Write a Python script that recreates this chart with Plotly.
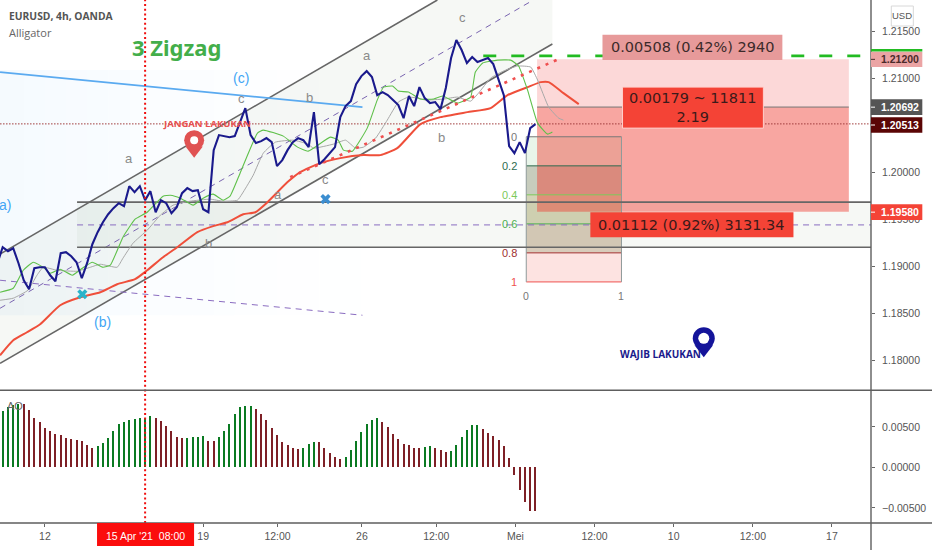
import plotly.graph_objects as go

# ---- bar series (bar index, 4h bars) ----
close_x = list(range(-1, 102))
close = [1.19032,1.19202,1.19160,1.19191,1.19032,1.18851,1.18755,1.18979,1.18989,1.18989,1.18904,
 1.18840,1.19138,1.19149,1.19106,1.19043,1.18872,1.19032,1.19234,1.19362,1.19468,
 1.19553,1.19617,1.19670,1.19638,1.19851,1.19787,1.19851,1.19702,1.19798,1.19574,
 1.19702,1.19670,1.19564,1.19628,1.19777,1.19830,1.19798,1.19809,1.19606,1.19574,
 1.20234,1.20394,1.20383,1.20372,1.20383,1.20532,1.20681,1.20394,1.20309,1.20330,
 1.20362,1.20319,1.20064,1.20128,1.20234,1.20319,1.20362,1.20340,1.20266,1.20638,
 1.20085,1.20138,1.20202,1.20266,1.20585,1.20702,1.20755,1.20936,1.21021,1.21074,
 1.21011,1.20819,1.20851,1.20819,1.20766,1.20713,1.20574,1.20809,1.20702,1.20904,
 1.20787,1.20734,1.20745,1.20670,1.20894,1.21213,1.21404,1.21298,1.21160,1.21223,
 1.21170,1.21191,1.21213,1.21149,1.20979,1.20819,1.20277,1.20202,1.20319,1.20202,
 1.20468,1.20511]

ao = [.00695,.00741,.00761,.00782,.00778,.00708,.00609,.00556,.00486,.00449,
 .00412,.00399,.00362,.00342,.00329,.00317,.00272,.00235,.00259,.00296,
 .00362,.00449,.00531,.00556,.00580,.00588,.00609,.00609,.00634,.00609,
 .00568,.00506,.00449,.00374,.00354,.00362,.00374,.00374,.00387,.00317,
 .00317,.00374,.00449,.00531,.00658,.00741,.00753,.00753,.00720,.00658,
 .00576,.00481,.00399,.00305,.00267,.00235,.00222,.00235,.00280,.00305,
 .00305,.00235,.00177,.00128,.00103,.00128,.00210,.00317,.00436,.00531,
 .00576,.00609,.00556,.00494,.00412,.00342,.00280,.00267,.00235,.00235,
 .00247,.00259,.00235,.00210,.00185,.00198,.00267,.00374,.00457,.00518,
 .00518,.00469,.00424,.00387,.00329,.00259,.00115,-.00095,-.00280,-.00436,
 -.00547,-.00547]
ao_rising = [1,1,1,1,0,0,0,0,0,0,0,0,0,0,0,0,0,0,1,1,1,1,1,1,1,1,1,1,1,0,
 0,0,0,0,0,1,1,1,1,0,0,1,1,1,1,1,1,1,0,0,0,0,0,0,0,0,0,1,1,1,
 0,0,0,0,0,1,1,1,1,1,1,1,0,0,0,0,0,0,0,0,1,1,0,0,0,1,1,1,1,1,
 1,0,0,0,0,0,0,0,0,0,0,0]

# ---- Alligator lines (bar index, price) ----
jaw_x = [-0.5,2.0,4.6,7.1,10.9,14.7,18.5,21.7,25.1,27.4,30.4,33.1,36.9,39.9,42.6,45.6,47.9,50.2,54.0,56.4,60.2,64.0,68.4,71.6,74.8,79.2,83.0,88.1,92.5,95.7,99.5,102.0,103.5,106.3,109.2]
jaw_y = [1.18053,1.18213,1.18298,1.18383,1.18585,1.18670,1.18723,1.18809,1.18862,1.18957,1.19096,1.19202,1.19362,1.19426,1.19468,1.19553,1.19574,1.19681,1.19894,1.20000,1.20096,1.20149,1.20181,1.20181,1.20255,1.20511,1.20585,1.20638,1.20681,1.20819,1.20904,1.20957,1.20957,1.20840,1.20723]
lips_x = [-0.5,2.0,3.9,5.8,7.7,9.0,10.9,13.2,15.1,17.0,19.0,20.4,22.8,25.1,27.4,30.4,31.8,33.7,36.1,38.0,39.9,41.8,43.1,45.0,48.3,49.4,53.2,55.9,57.9,62.1,63.6,64.6,66.3,69.1,71.0,72.2,73.9,75.0,76.9,79.2,81.7,83.4,86.2,88.7,89.6,91.0,93.8,96.3,97.8,99.5,101.4,103.3,104.2]
lips_y = [1.18723,1.18766,1.18957,1.19043,1.18989,1.18926,1.18968,1.18904,1.18979,1.19043,1.18989,1.19011,1.19309,1.19500,1.19574,1.19745,1.19755,1.19723,1.19649,1.19723,1.19766,1.19702,1.19745,1.19989,1.20415,1.20447,1.20383,1.20266,1.20223,1.20372,1.20340,1.20234,1.20223,1.20468,1.20766,1.20904,1.20915,1.20862,1.20851,1.20777,1.20777,1.20809,1.20734,1.20798,1.21064,1.21160,1.21191,1.21191,1.21128,1.20872,1.20521,1.20404,1.20426]
teeth_x = [-0.5,2.0,4.8,6.5,7.7,10.3,14.1,16.6,18.5,21.7,22.8,24.7,27.4,29.9,32.3,35.5,39.3,41.8,44.5,46.4,47.5,49.4,51.7,55.1,57.9,58.9,62.7,65.0,66.9,68.4,70.7,72.9,75.0,76.9,78.6,80.2,83.6,86.2,88.7,90.2,92.5,94.9,97.6,100.1,101.4,103.5,105.4,106.3]
teeth_y = [1.18638,1.18660,1.18745,1.18904,1.18989,1.18957,1.18947,1.18989,1.19021,1.18989,1.19085,1.19245,1.19383,1.19543,1.19649,1.19691,1.19713,1.19691,1.19702,1.19862,1.19968,1.20202,1.20319,1.20340,1.20298,1.20255,1.20298,1.20340,1.20255,1.20266,1.20362,1.20553,1.20745,1.20798,1.20787,1.20766,1.20777,1.20798,1.20755,1.20840,1.21000,1.21074,1.21128,1.21117,1.20979,1.20691,1.20574,1.20553]

# ---- axes ----
x_tick_pos = [8, 27, 38, 52.1, 68.1, 82.2, 97.2, 112.2, 127.2, 142.2, 157.2]
x_tick_text = ["12", "", "19", "12:00", "26", "12:00", "Mei", "12:00", "10", "12:00", "17"]
price_ticks = [1.215, 1.21, 1.205, 1.20, 1.195, 1.19, 1.185, 1.18]
ao_ticks = [0.005, 0.0, -0.005]
ao_tick_text = ["0.00500", "0.00000", "\u22120.00500"]

# ---- drawings ----
fib_levels = [1.20376, 1.20067, 1.19759, 1.19450, 1.19142, 1.18833]
fib_names = ["0", "0.2", "0.4", "0.6", "0.8", "1"]
fib_line = ["#777777", "#2e6b4f", "#7cc95a", "#4caf50", "#a03030", "#ef5350"]
fib_fill = ["rgba(76,175,80,0.12)", "rgba(70,85,35,0.30)", "rgba(120,120,30,0.32)", "rgba(125,85,30,0.30)", "rgba(244,67,54,0.15)"]
wave_grey = [("a",24,1.20149),("c",45.2,1.20787),("b",58.1,1.20798),("a",69.1,1.21245),("c",87.2,1.21649),
             ("b",83.2,1.20372),("c",61.2,1.19926),("a",52.1,1.19766),("b",39,1.19245)]
wave_blue = [("(c)",45.2,1.21),("(b)",19,1.18404),("a)",0.4,1.19649)]

W, H = 932, 550
PX0, PX1 = -0.507, 164.6
BLUE_NAVY = "#1a1a8c"
TXT = "Liberation Sans"

shapes, ann = [], []

def rect(x0, x1, y0, y1, fill, yref="y", layer="below", xref="x", line=None):
    shapes.append(dict(type="rect", xref=xref, yref=yref, x0=x0, x1=x1, y0=y0, y1=y1, fillcolor=fill,
                       line=dict(width=1 if line else 0, color=line or "rgba(0,0,0,0)"), layer=layer))

def seg(x0, y0, x1, y1, color, width=1, dash="solid", yref="y", layer="below", xref="x"):
    shapes.append(dict(type="line", xref=xref, yref=yref, x0=x0, y0=y0, x1=x1, y1=y1,
                       line=dict(color=color, width=width, dash=dash), layer=layer))

def text(t, x, y, size=11, color="#555", font=TXT, xref="x", yref="y", anchor="center", bold=False):
    ann.append(dict(text=f"<b>{t}</b>" if bold else t, x=x, y=y, xref=xref, yref=yref, showarrow=False,
                    xanchor=anchor, yanchor="middle", font=dict(size=size, color=color, family=font)))

# pale blue gradient block
blue_steps = [(-0.5,4,.05),(4,8,.046),(8,12,.042),(12,16,.038),(16,20,.034),(20,24,.03),(24,28,.027),(28,32,.024),
              (32,36,.021),(36,40,.018),(40,44,.015),(44,48,.012),(48,52,.01),(52,56,.008),(56,60,.006),(60,68,.004)]
for a, b, al in blue_steps:
    rect(a, b, 1.18479, 1.21085, f"rgba(66,165,245,{al})")

# rising channel
shapes.append(dict(type="path", xref="x", yref="y", layer="below", line=dict(width=0),
                   fillcolor="rgba(175,190,160,0.11)",
                   path="M -0.5 1.19128 L 82.4 1.2183 L 104.2 1.2183 L 104.2 1.21362 L -0.5 1.17968 Z"))
# horizontal channel
rect(14.1, PX1, 1.19202, 1.19681, "rgba(175,190,160,0.11)")

# fib block
for k in range(5):
    rect(99.25, 117.3, fib_levels[k+1], fib_levels[k], fib_fill[k])
# position block
rect(101.3, 160.4, 1.20692, 1.2120, "rgba(240,70,70,0.21)")
rect(101.3, 160.4, 1.1958, 1.20692, "rgba(240,60,50,0.46)")
seg(101.3, 1.20692, 160.4, 1.20692, "#777777", 1)

for k in range(6):
    seg(99.25, fib_levels[k], 117.3, fib_levels[k], fib_line[k], 1)
    text(fib_names[k], 97 if fib_names[k] in ("0","1") else 96, fib_levels[k], 11, fib_line[k])
seg(99.25, fib_levels[0], 99.25, fib_levels[5], "#8f9a9a", 1)
seg(117.3, fib_levels[0], 117.3, fib_levels[5], "#8f9a9a", 1)
text("0", 99.25, 1.18686, 10.5, "#777")
text("1", 117.3, 1.18686, 10.5, "#777")

# channel lines
seg(-0.5, 1.19128, 82.4, 1.2183, "#666666", 1.6)
seg(-0.5, 1.17968, 104.2, 1.21362, "#666666", 1.6)
seg(-0.5, 1.18553, 100.6, 1.2183, "#7a65b0", 1, "6px,5px")
seg(14.1, 1.19681, PX1, 1.19681, "#666666", 1.6)
seg(14.1, 1.19202, PX1, 1.19202, "#666666", 1.6)
seg(14.1, 1.19439, PX1, 1.19439, "#8a6cc0", 1, "6px,5px")
seg(-0.5, 1.18851, 68.2, 1.18479, "#8a6cc0", 1, "6px,5px")
seg(-0.5, 1.21064, 68.2, 1.20691, "#5aaaf0", 1.8)
seg(91.1, 1.21236, PX1, 1.21236, "#22bb22", 2.8, "13px,15px")

# last price dotted, vertical red marker
seg(-0.5, 1.20513, PX1, 1.20513, "#a03a3a", 1, "1.5px,1.5px")
seg(27, 0, 27, 1, "#f01010", 2, "2px,2.7px", yref="paper", layer="above")

# frames
for yy in (132.7/523,):
    seg(0, yy, W/870.7, yy, "#5e5e5e", 1.4, yref="paper", xref="paper", layer="above")
seg(0, 0, W/870.7, 0, "#5e5e5e", 1.4, yref="paper", xref="paper", layer="above")
seg(1, 1, 1, -27/523, "#5e5e5e", 1.4, yref="paper", xref="paper", layer="above")

# labelled boxes
rect(113.7, 147.8, 1.21191, 1.21461, "#e79a9a", layer="above")
text("0.00508 (0.42%) 2940", 130.7, 1.21326, 14.5, "#3c2a2a", "DejaVu Sans")
rect(117.5, 144.2, 1.20468, 1.20904, "#f44336", layer="above", line="#ffd0cc")
text("0.00179 ~ 11811<br>2.19", 130.85, 1.20686, 14.5, "#3c1a1a", "DejaVu Sans")
rect(111.4, 149.9, 1.19309, 1.19574, "#f44336", layer="above")
text("0.01112 (0.92%) 3131.34", 130.65, 1.19441, 14.5, "#3c1a1a", "DejaVu Sans")

# price tags on the axis
def ptag(label, y0_px, y1_px, fill, color):
    rect(1.0, 922/870.7, 1-y1_px/523, 1-y0_px/523, fill, yref="paper", xref="paper", layer="above")
    seg(1.0, 1-(y0_px+y1_px)/2/523, 1+4/870.7, 1-(y0_px+y1_px)/2/523, color, 1, yref="paper", xref="paper", layer="above")
    text(label, 879/870.7, 1-(y0_px+y1_px)/2/523, 10.5, color, TXT, xref="paper", yref="paper", anchor="left", bold=True)

ptag("1.21200", 51.7, 67, "#eba4a4", "#4a2a2a")
rect(1.0, 922/870.7, 1-51.5/523, 1-49/523, "#22bb22", yref="paper", xref="paper", layer="above")
ptag("1.20692", 99.3, 115, "#555555", "#ffffff")
ptag("1.20513", 117.3, 132.7, "#5a0505", "#ffffff")
ptag("1.19580", 204.3, 220, "#f44336", "#ffffff")

# date tag
rect(97/870.7, 194/870.7, -23/523, 0, "#fb0d0d", yref="paper", xref="paper", layer="above")
text("15 Apr '21  08:00", 145.5/870.7, -13/523, 10.5, "#ffffff", TXT, xref="paper", yref="paper")

# USD badge
rect(891/870.7, 913/870.7, 1-26/523, 1-6/523, "#ffffff", yref="paper", xref="paper", layer="above", line="#d8d8d8")
text("USD", 902/870.7, 1-15.5/523, 9.5, "#555", TXT, xref="paper", yref="paper")

# plain text
text("EURUSD, 4h, OANDA", 7/870.7, 1-16/523, 10.3, "#555", "Open Sans", xref="paper", yref="paper", anchor="left", bold=True)
text("Alligator", 7/870.7, 1-32/523, 11, "#666", "Open Sans", xref="paper", yref="paper", anchor="left")
text("AO", 15/870.7, 1-406/523, 11, "#666", TXT, xref="paper", yref="paper")
text("3 Zigzag", 32.9, 1.2133, 22, "#43ae4a", "Noto Sans", bold=True)
text("JANGAN LAKUKAN", 38.8, 1.20521, 9.5, "#e85050", "Open Sans", bold=True)
text("WAJIB LAKUKAN", 124.7, 1.18064, 10, BLUE_NAVY, "Open Sans", bold=True)
for t, x, y in wave_grey:
    text(t, x, y, 13, "#8a8a8a")
for t, x, y in wave_blue:
    text(t, x, y, 14, "#42a5f5")

fig = go.Figure()
fig.add_trace(go.Scatter(x=jaw_x, y=jaw_y, mode="lines", line=dict(color="#ef4f3a", width=2, shape="spline", smoothing=0.5)))
fig.add_trace(go.Scatter(x=teeth_x, y=teeth_y, mode="lines", line=dict(color="#a8a8a8", width=1, shape="spline", smoothing=0.4)))
fig.add_trace(go.Scatter(x=lips_x, y=lips_y, mode="lines", line=dict(color="#5fc04a", width=1.1, shape="spline", smoothing=0.4)))
fig.add_trace(go.Scatter(x=[54.5, 105.4], y=[1.19947, 1.21202], mode="lines", line=dict(color="#ef4f4f", width=2.6, dash="3px,6px")))
fig.add_trace(go.Scatter(x=close_x, y=close, mode="lines", line=dict(color=BLUE_NAVY, width=2.1)))
# cross marks
fig.add_trace(go.Scatter(x=[15.1], y=[1.18702], mode="markers", marker=dict(symbol="x", size=9, color="#2bb3c9")))
fig.add_trace(go.Scatter(x=[61.2], y=[1.19713], mode="markers", marker=dict(symbol="x", size=9, color="#3b8ed0")))
# pins
for px, pc, pt, col, s, h, ts in [(36.3, 1.2034, 1.20234, "#e05252", 20, 8, 15), (132.9, 1.18234, 1.18117, "#14149a", 22, 11, 16)]:
    fig.add_trace(go.Scatter(x=[px], y=[pt], mode="markers", marker=dict(symbol="triangle-down", size=ts, color=col)))
    fig.add_trace(go.Scatter(x=[px], y=[pc], mode="markers", marker=dict(symbol="circle", size=s, color=col)))
    fig.add_trace(go.Scatter(x=[px], y=[pc], mode="markers", marker=dict(symbol="circle", size=h, color="#ffffff")))
# AO
fig.add_trace(go.Bar(x=list(range(len(ao))), y=ao, width=0.2, yaxis="y2",
                     marker=dict(color=["#0b7a22" if r else "#7e2026" for r in ao_rising], line=dict(width=0))))

fig.update_layout(
    width=W, height=H, margin=dict(l=0, r=W-870.7, t=0, b=H-523), showlegend=False,
    paper_bgcolor="#ffffff", plot_bgcolor="#ffffff", shapes=shapes, annotations=ann, bargap=0,
    xaxis=dict(range=[PX0, PX1], domain=[0, 1], anchor="y2", showgrid=False, zeroline=False, fixedrange=True,
               tickmode="array", tickvals=x_tick_pos, ticktext=x_tick_text, ticks="outside", ticklen=3,
               tickcolor="#666", tickfont=dict(size=10.5, color="#555", family=TXT), showline=False),
    yaxis=dict(domain=[1-390.3/523, 1], range=[1.2183, 1.17681][::-1], side="right", anchor="x", showgrid=False,
               zeroline=False, tickmode="array", tickvals=price_ticks, tickformat=".5f", ticks="outside", ticklen=3,
               tickcolor="#666", tickfont=dict(size=10.5, color="#555", family=TXT), ticklabelstandoff=5, showline=False),
    yaxis2=dict(domain=[0, 132.7/523], range=[-0.00687, 0.00951], side="right", anchor="x", showgrid=False,
                zeroline=False, tickmode="array", tickvals=ao_ticks, ticktext=ao_tick_text, ticks="outside", ticklen=3,
                tickcolor="#666", tickfont=dict(size=10.5, color="#555", family=TXT), ticklabelstandoff=5, showline=False),
)
fig.write_html("out.html", config=dict(displayModeBar=False), post_script="document.body.style.margin='0';")
